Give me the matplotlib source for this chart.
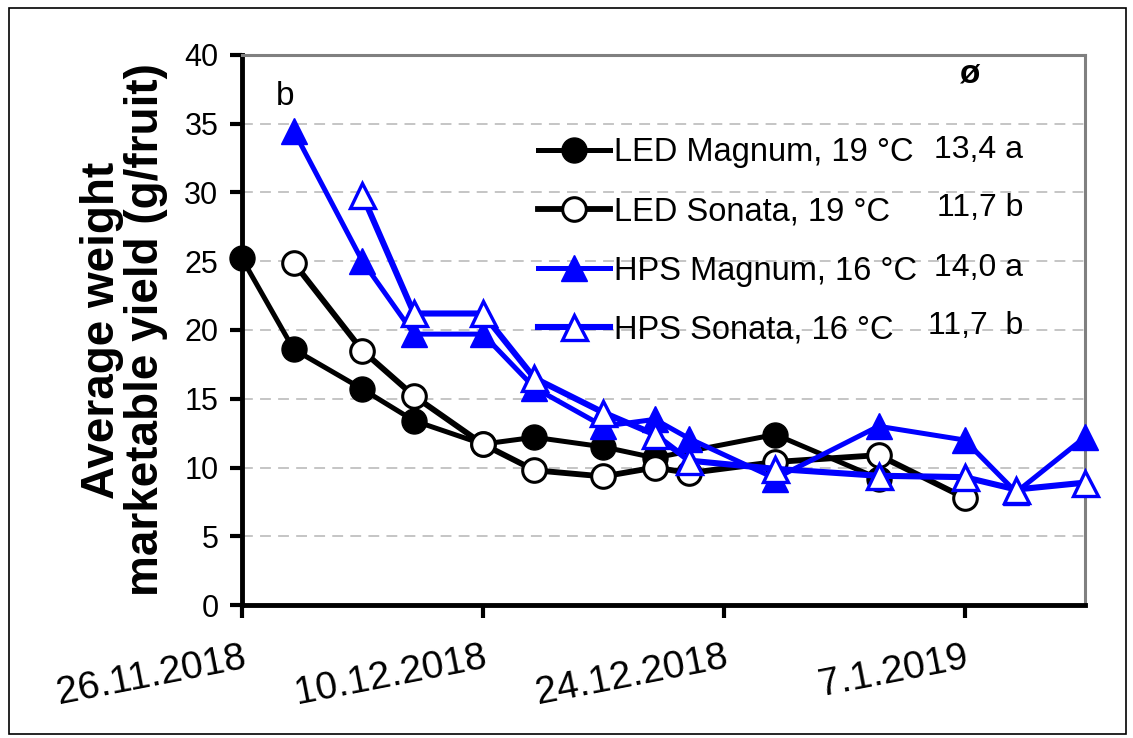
import matplotlib.pyplot as plt
import matplotlib.dates as mdates
from matplotlib.patches import Rectangle
from datetime import datetime

plt.rcParams['font.family'] = ['Liberation Sans', 'DejaVu Sans']

# ---------------------------------- data ----------------------------------

led_magnum_dates = ['26.11.2018', '29.11.2018', '3.12.2018', '6.12.2018', '10.12.2018',
                    '13.12.2018', '17.12.2018', '20.12.2018', '27.12.2018', '2.1.2019']
led_magnum = [25.2, 18.6, 15.7, 13.4, 11.7, 12.2, 11.5, 10.7, 12.4, 9.2]

led_sonata_dates = ['29.11.2018', '3.12.2018', '6.12.2018', '10.12.2018', '13.12.2018',
                    '17.12.2018', '20.12.2018', '22.12.2018', '27.12.2018', '2.1.2019', '7.1.2019']
led_sonata = [24.9, 18.5, 15.2, 11.7, 9.8, 9.35, 10.0, 9.6, 10.4, 10.9, 7.8]

hps_magnum_dates = ['29.11.2018', '3.12.2018', '6.12.2018', '10.12.2018', '13.12.2018',
                    '17.12.2018', '20.12.2018', '22.12.2018', '27.12.2018', '2.1.2019',
                    '7.1.2019', '10.1.2019', '14.1.2019']
hps_magnum = [34.5, 25.0, 19.7, 19.7, 15.8, 13.0, 13.5, 12.1, 9.2, 13.0, 12.0, 8.2, 12.2]

hps_sonata_dates = ['3.12.2018', '6.12.2018', '10.12.2018', '13.12.2018', '17.12.2018',
                    '20.12.2018', '22.12.2018', '27.12.2018', '2.1.2019', '7.1.2019',
                    '10.1.2019', '14.1.2019']
hps_sonata = [29.8, 21.2, 21.2, 16.5, 14.0, 12.4, 10.5, 9.9, 9.4, 9.3, 8.4, 8.9]

labels = ['LED Magnum, 19 °C', 'LED Sonata, 19 °C', 'HPS Magnum, 16 °C', 'HPS Sonata, 16 °C']
means = ['13,4 a', '11,7 b', '14,0 a', '11,7  b']

tick_dates = ['26.11.2018', '10.12.2018', '24.12.2018', '7.1.2019']
x_start, x_end = '26.11.2018', '14.1.2019'


def to_dates(lst):
    return [datetime.strptime(s, '%d.%m.%Y') for s in lst]


# ---------------------------------------- figure ----------------------------------------

fig = plt.figure(figsize=(11.33, 7.38), dpi=100)
ax = fig.add_axes([0.2136, 0.1802, 0.7440, 0.7453])

fig.patches.append(Rectangle((9 / 1133, 4 / 738), 1117 / 1133, 726 / 738, transform=fig.transFigure,
                             fill=False, edgecolor='black', linewidth=1.2))

lw = 3.6
h1, = ax.plot(to_dates(led_magnum_dates), led_magnum, color='black', lw=lw, marker='o', ms=18,
              mfc='black', mec='black', clip_on=False, zorder=3)
h2, = ax.plot(to_dates(led_sonata_dates), led_sonata, color='black', lw=lw + 0.6, marker='o', ms=17,
              mfc='white', mec='black', mew=2.2, clip_on=False, zorder=3)
h3, = ax.plot(to_dates(hps_magnum_dates), hps_magnum, color='#0000ff', lw=lw, marker='^', ms=19,
              mfc='#0000ff', mec='#0000ff', clip_on=False, zorder=3)
h4, = ax.plot(to_dates(hps_sonata_dates), hps_sonata, color='#0000ff', lw=lw + 0.8, marker='^', ms=18,
              mfc='white', mec='#0000ff', mew=2.4, clip_on=False, zorder=3)

ax.set_xlim(to_dates([x_start, x_end]))
ax.set_ylim(0, 40)
ax.set_yticks(range(0, 41, 5))
ax.set_xticks(to_dates(tick_dates))
ax.set_xticklabels(tick_dates, rotation=11, ha='right', va='top', rotation_mode='anchor')

ax.yaxis.grid(True, color='#c0c0c0', linestyle=(0, (6, 4)), linewidth=1.3)
ax.set_axisbelow(True)

for s in ['left', 'bottom']:
    ax.spines[s].set_linewidth(3.5)
    ax.spines[s].set_color('black')
for s in ['top', 'right']:
    ax.spines[s].set_linewidth(2.2)
    ax.spines[s].set_color('#808080')

ax.tick_params(axis='y', labelsize=22, length=9, width=3, pad=8)
ax.tick_params(axis='x', labelsize=28, length=9, width=3, pad=16)

ax.set_ylabel('Average weight\nmarketable yield (g/fruit)', fontsize=33, fontweight='bold',
              linespacing=1.0, labelpad=12)

leg = ax.legend([h1, h2, h3, h4], labels, loc='upper left', bbox_to_anchor=(0.351, 0.85),
                frameon=False, fontsize=23.5, handlelength=2.2, handletextpad=0.12,
                labelspacing=0.86, borderpad=0, borderaxespad=0)

mean_y = [33.1, 28.9, 24.5, 20.3]
for m, yv in zip(means, mean_y):
    ax.text(datetime(2019, 1, 10, 10), yv, m, fontsize=23, ha='right', va='center')

ax.text(datetime(2019, 1, 7, 6), 38.6, 'ø', fontsize=24, fontweight='bold', ha='center', va='center')
ax.text(datetime(2018, 11, 28, 12), 37.0, 'b', fontsize=24, ha='center', va='center')

fig.savefig('out.png', dpi=100)
